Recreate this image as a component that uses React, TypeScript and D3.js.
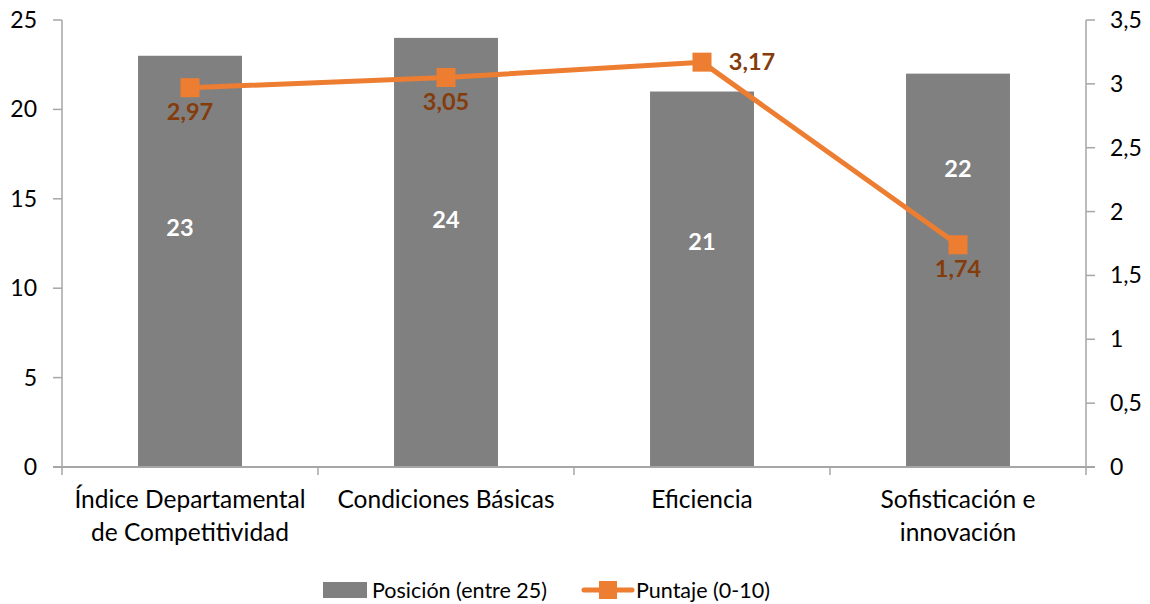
import React from "react";
import * as d3 from "d3";

const categories = [
  ["Índice Departamental", "de Competitividad"],
  ["Condiciones Básicas"],
  ["Eficiencia"],
  ["Sofisticación e", "innovación"],
];
const posicion = [23, 24, 21, 22];
const puntaje = [2.97, 3.05, 3.17, 1.74];
const leftTicks = [0, 5, 10, 15, 20, 25];
const rightTicks = [0, 0.5, 1, 1.5, 2, 2.5, 3, 3.5];
// where the white bar labels sit (left-axis units)
const barLabelAt = [13.4, 13.8, 12.6, 16.7];
// label placement for each line point
const pointLabelSide = ["below", "below", "right", "below"];

const W = 1150;
const H = 604;
const M = { left: 62, right: 1086, top: 20, bottom: 467 };
const FONT = "Lato, 'Open Sans', sans-serif";
const AXIS = "#A6A6A6";
const BAR = "#808080";
const ORANGE = "#ED7D31";
const BROWN = "#843C0C";

const fmt = (v: number) => String(v).replace(".", ",");

export default function App() {
  const idx = categories.map((_, i) => String(i));
  const x = d3.scaleBand().domain(idx).range([M.left, M.right]).paddingInner(0.594).paddingOuter(0.297);
  const band = d3.scaleBand().domain(idx).range([M.left, M.right]);
  const yL = d3.scaleLinear().domain([0, 25]).range([M.bottom, M.top]);
  const yR = d3.scaleLinear().domain([0, 3.5]).range([M.bottom, M.top]);
  const cx = (i: number) => (band(String(i)) as number) + band.bandwidth() / 2;
  const line = d3
    .line<number>()
    .x((_, i) => cx(i))
    .y((d) => yR(d));

  return (
    <svg width={W} height={H} style={{ position: "absolute", left: 0, top: 0, background: "#fff" }} fontFamily={FONT}>
      {/* bars */}
      {posicion.map((v, i) => (
        <rect key={"b" + i} x={x(String(i))} y={yL(v)} width={x.bandwidth()} height={yL(0) - yL(v)} fill={BAR} />
      ))}
      {/* left axis */}
      <line x1={M.left} x2={M.left} y1={M.top} y2={M.bottom} stroke={AXIS} strokeWidth={1.5} />
      {leftTicks.map((t) => (
        <g key={"l" + t}>
          <line x1={M.left - 9} x2={M.left} y1={yL(t)} y2={yL(t)} stroke={AXIS} strokeWidth={1.5} />
          <text x={37} y={yL(t)} dy="0.35em" textAnchor="end" fontSize={23} fill="#000">
            {fmt(t)}
          </text>
        </g>
      ))}
      {/* right axis */}
      <line x1={M.right} x2={M.right} y1={M.top} y2={M.bottom} stroke={AXIS} strokeWidth={1.5} />
      {rightTicks.map((t) => (
        <g key={"r" + t}>
          <line x1={M.right} x2={M.right + 9} y1={yR(t)} y2={yR(t)} stroke={AXIS} strokeWidth={1.5} />
          <text x={1110} y={yR(t)} dy="0.35em" textAnchor="start" fontSize={23} fill="#000">
            {fmt(t)}
          </text>
        </g>
      ))}
      {/* bottom axis */}
      <line x1={M.left - 9} x2={M.right + 9} y1={M.bottom} y2={M.bottom} stroke={AXIS} strokeWidth={2} />
      {[...idx.map((d) => band(d) as number), M.right].map((t, i) => (
        <line key={"x" + i} x1={t} x2={t} y1={M.bottom} y2={M.bottom + 8} stroke={AXIS} strokeWidth={1.5} />
      ))}
      {categories.map((lines, i) => (
        <text key={"c" + i} x={cx(i)} y={508} textAnchor="middle" fontSize={24.5} fill="#000">
          {lines.map((l, j) => (
            <tspan key={j} x={cx(i)} dy={j === 0 ? 0 : 33}>
              {l}
            </tspan>
          ))}
        </text>
      ))}
      {/* bar labels */}
      {posicion.map((v, i) => (
        <text key={"bl" + i} x={cx(i) - (i === 0 ? 10 : 0)} y={yL(barLabelAt[i])} dy="0.35em" textAnchor="middle" fontSize={23.5} fontWeight="bold" fill="#fff">
          {v}
        </text>
      ))}
      {/* line */}
      <path d={line(puntaje) as string} fill="none" stroke={ORANGE} strokeWidth={5} strokeLinejoin="round" />
      {puntaje.map((v, i) => (
        <rect key={"m" + i} x={cx(i) - 9.5} y={yR(v) - 9.5} width={19} height={19} fill={ORANGE} />
      ))}
      {puntaje.map((v, i) => {
        const right = pointLabelSide[i] === "right";
        return (
          <text
            key={"pl" + i}
            x={right ? cx(i) + 50 : cx(i)}
            y={right ? yR(v) : yR(v) + 24}
            dy="0.35em"
            textAnchor="middle"
            fontSize={23.5}
            fontWeight="bold"
            fill={BROWN}
          >
            {fmt(v)}
          </text>
        );
      })}
      {/* legend */}
      <rect x={323} y={582} width={44} height={16} fill={BAR} />
      <text x={372} y={590} dy="0.35em" fontSize={21.5} fill="#000">
        Posición (entre 25)
      </text>
      <line x1={584} x2={632} y1={590} y2={590} stroke={ORANGE} strokeWidth={5} strokeLinecap="round" />
      <rect x={599} y={581} width={18} height={18} fill={ORANGE} />
      <text x={636} y={590} dy="0.35em" fontSize={21.5} fill="#000">
        Puntaje (0-10)
      </text>
    </svg>
  );
}
